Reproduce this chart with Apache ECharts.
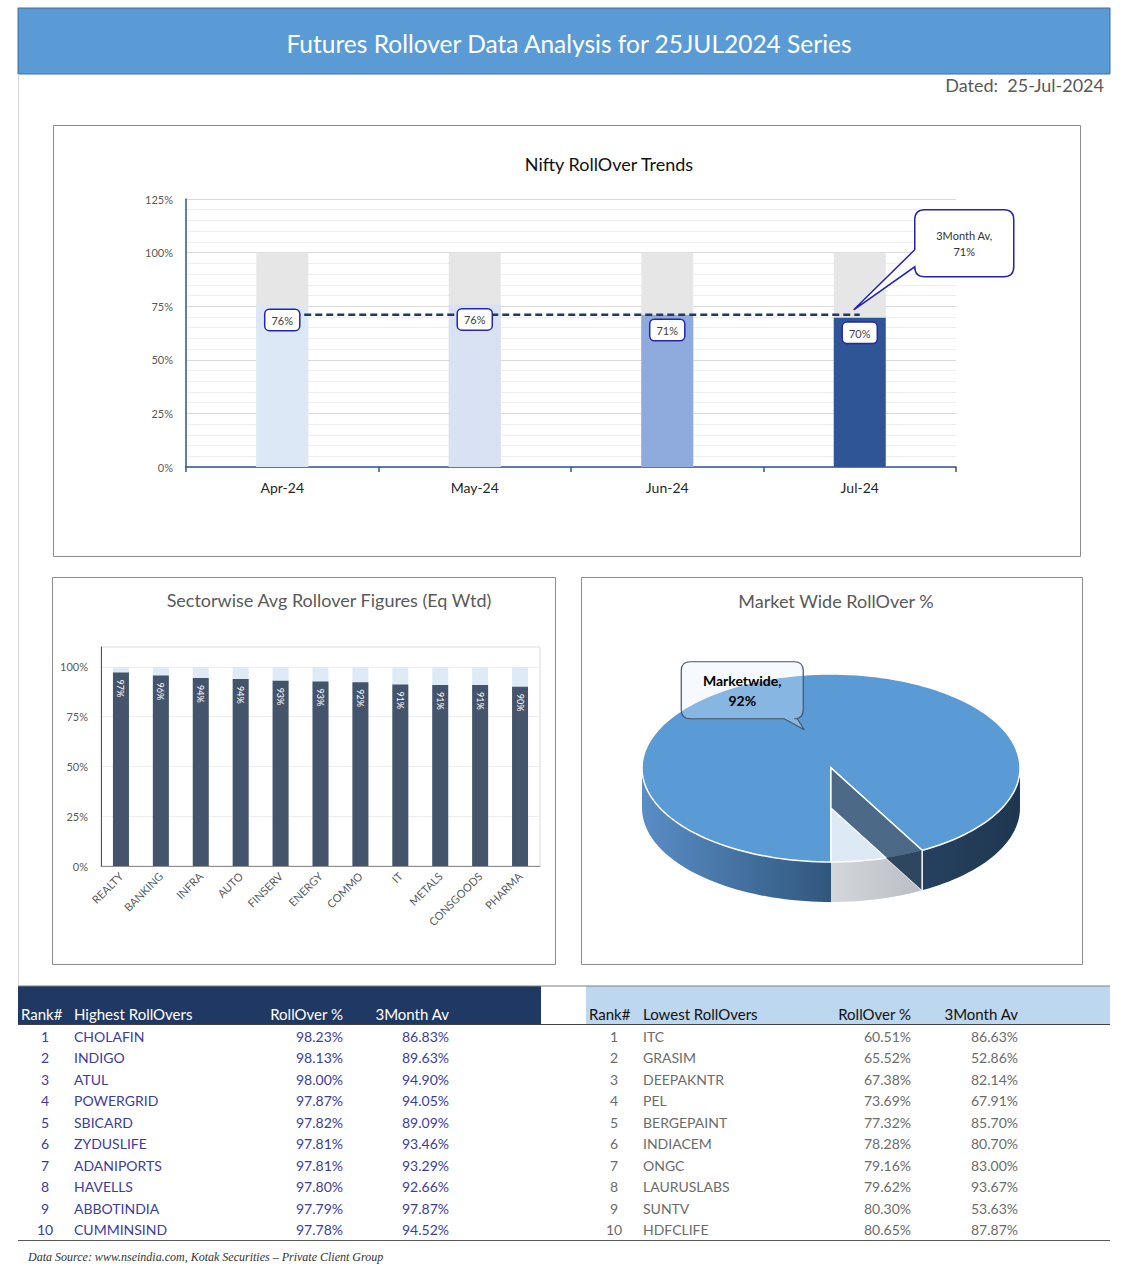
<!DOCTYPE html>
<html><head><meta charset="utf-8">
<script src="https://cdn.jsdelivr.net/npm/echarts@6/dist/echarts.min.js"></script>
<style>html,body{margin:0;padding:0;background:#fff}#c{width:1137px;height:1280px}</style>
</head><body><div id="c"></div>
<script>
// ---------------- DATA ----------------
const mainTitle = 'Futures Rollover Data Analysis for 25JUL2024 Series';
const datedText = 'Dated:  25-Jul-2024';
const months = ['Apr-24', 'May-24', 'Jun-24', 'Jul-24'];
const niftyRollover = [75.6, 75.8, 70.9, 69.6];
const nifty3mAvg = [71, 71, 71, 71];
const niftyFull = [100, 100, 100, 100];
const niftyTicks = [0, 25, 50, 75, 100, 125];

const sectors = ['REALTY', 'BANKING', 'INFRA', 'AUTO', 'FINSERV', 'ENERGY', 'COMMO', 'IT', 'METALS', 'CONSGOODS', 'PHARMA'];
const sectorRollover = [97.2, 95.7, 94.4, 93.9, 93.1, 92.7, 92.3, 91.2, 90.9, 90.9, 90.0];
const sectorFull = [100, 100, 100, 100, 100, 100, 100, 100, 100, 100, 100];

const pieNames = ['Marketwide', 'Balance'];
const pieValues = [92, 8];

const tableHeaders = ['Rank#', 'RollOver %', '3Month Av'];
const highTitle = 'Highest RollOvers';
const lowTitle = 'Lowest RollOvers';
const ranks = [1, 2, 3, 4, 5, 6, 7, 8, 9, 10];
const highNames = ['CHOLAFIN', 'INDIGO', 'ATUL', 'POWERGRID', 'SBICARD', 'ZYDUSLIFE', 'ADANIPORTS', 'HAVELLS', 'ABBOTINDIA', 'CUMMINSIND'];
const highRoll = [98.23, 98.13, 98.00, 97.87, 97.82, 97.81, 97.81, 97.80, 97.79, 97.78];
const high3m = [86.83, 89.63, 94.90, 94.05, 89.09, 93.46, 93.29, 92.66, 97.87, 94.52];
const lowNames = ['ITC', 'GRASIM', 'DEEPAKNTR', 'PEL', 'BERGEPAINT', 'INDIACEM', 'ONGC', 'LAURUSLABS', 'SUNTV', 'HDFCLIFE'];
const lowRoll = [60.51, 65.52, 67.38, 73.69, 77.32, 78.28, 79.16, 79.62, 80.30, 80.65];
const low3m = [86.63, 52.86, 82.14, 67.91, 85.70, 80.70, 83.00, 93.67, 53.63, 87.87];
const footText = 'Data Source: www.nseindia.com, Kotak Securities \u2013 Private Client Group';

// ---------------- STYLE ----------------
const F = 'Lato, "Open Sans", sans-serif';
const monthColors = ['#DCE8F5', '#D9E2F3', '#8FAADC', '#2F5597'];
const pieTopColors = ['#5B9BD5', '#DDE9F5'];
const pieSideStops = [
  [{offset: 0, color: '#5A8DC6'}, {offset: 0.49, color: '#31587F'}, {offset: 0.52, color: '#2B4B6D'}, {offset: 1, color: '#1F3650'}],
  [{offset: 0, color: '#DADDE1'}, {offset: 0.5, color: '#D3D6DA'}, {offset: 0.75, color: '#B9BEC4'}, {offset: 1, color: '#B0B5BB'}]
];
const PIE = {cx: 831, cy: 768, rx: 189, ry: 94, h: 40, start: 90};

const pct = v => v.toFixed(2) + '%';

function ep(a, dy, k) {
  k = (k == null) ? 1 : k;
  const r = a * Math.PI / 180;
  return [PIE.cx + PIE.rx * k * Math.cos(r), PIE.cy + PIE.ry * k * Math.sin(r) + dy];
}
function arc(a0, a1, dy) {
  const n = Math.max(2, Math.ceil(Math.abs(a1 - a0) / 2));
  const pts = [];
  for (let i = 0; i <= n; i++) pts.push(ep(a0 + (a1 - a0) * i / n, dy));
  return pts;
}
const pieTotal = pieValues.reduce((a, b) => a + b, 0);
function sliceAngles(i) {
  let before = 0;
  for (let j = 0; j < i; j++) before += pieValues[j];
  const a0 = PIE.start + 360 * before / pieTotal;
  return [a0, a0 + 360 * pieValues[i] / pieTotal];
}
function calloutBottom(x, y, w, h, r, t1, t2, tip) {
  return 'M' + (x + r) + ',' + y + ' L' + (x + w - r) + ',' + y + ' Q' + (x + w) + ',' + y + ' ' + (x + w) + ',' + (y + r) +
    ' L' + (x + w) + ',' + (y + h - r) + ' Q' + (x + w) + ',' + (y + h) + ' ' + (x + w - r) + ',' + (y + h) +
    ' L' + t2 + ',' + (y + h) + ' L' + tip[0] + ',' + tip[1] + ' L' + t1 + ',' + (y + h) +
    ' L' + (x + r) + ',' + (y + h) + ' Q' + x + ',' + (y + h) + ' ' + x + ',' + (y + h - r) +
    ' L' + x + ',' + (y + r) + ' Q' + x + ',' + y + ' ' + (x + r) + ',' + y + ' Z';
}
function calloutLeft(x, y, w, h, r, t1, t2, tip) {
  return 'M' + (x + r) + ',' + y + ' L' + (x + w - r) + ',' + y + ' Q' + (x + w) + ',' + y + ' ' + (x + w) + ',' + (y + r) +
    ' L' + (x + w) + ',' + (y + h - r) + ' Q' + (x + w) + ',' + (y + h) + ' ' + (x + w - r) + ',' + (y + h) +
    ' L' + (x + r) + ',' + (y + h) + ' Q' + x + ',' + (y + h) + ' ' + x + ',' + (y + h - r) +
    ' L' + x + ',' + t2 + ' L' + tip[0] + ',' + tip[1] + ' L' + x + ',' + t1 +
    ' L' + x + ',' + (y + r) + ' Q' + x + ',' + y + ' ' + (x + r) + ',' + y + ' Z';
}
function txt(x, y, text, opt) {
  opt = opt || {};
  const align = opt.align || 'left';
  return {type: 'text', x: x, y: y, silent: true, z: 10,
    style: {text: text, fill: opt.color || '#333', font: opt.font || ('14px ' + F),
      align: align, textAlign: align, verticalAlign: 'middle', textVerticalAlign: 'middle'}};
}

function pieRender(params, api) {
  const i = params.dataIndex;
  const ang = sliceAngles(i);
  const a0 = ang[0], a1 = ang[1];
  const ch = [];
  [[0, 180], [360, 540]].forEach(function (rg) {
    const lo = Math.max(a0, rg[0]), hi = Math.min(a1, rg[1]);
    if (hi > lo) {
      const top = arc(lo, hi, 0), bot = arc(hi, lo, PIE.h);
      ch.push({type: 'polygon', z2: 1, shape: {points: top.concat(bot)},
        style: {fill: {type: 'linear', x: PIE.cx - PIE.rx, y: 0, x2: PIE.cx + PIE.rx, y2: 0, global: true, colorStops: pieSideStops[i]}}});
    }
  });
  ch.push({type: 'polygon', z2: 2, shape: {points: [[PIE.cx, PIE.cy]].concat(arc(a0, a1, 0))},
    style: {fill: pieTopColors[i], stroke: '#ffffff', lineWidth: 1.5}});
  if (i === 0) {
    const e0 = ep(a1, 0), e1 = ep(a1, PIE.h);
    const b0 = [PIE.cx, PIE.cy + PIE.h];
    ch.push({type: 'polygon', z2: 3, shape: {points: [[PIE.cx, PIE.cy], e0, e1, b0]},
      style: {fill: '#4C6987', stroke: '#ffffff', lineWidth: 1.3}});
    // darker lower part of the cut wall (below the next slice's rim)
    const dark = [e0];
    const slope = (e1[1] - b0[1]) / (e1[0] - b0[0]);
    for (let t = 0; t <= 30; t += 0.5) {
      const p = ep(a1 + t, 0);
      const yl = b0[1] + (p[0] - b0[0]) * slope;
      if (p[1] <= yl) dark.push(p); else { dark.push([p[0], yl]); break; }
    }
    dark.push(e1);
    ch.push({type: 'polygon', z2: 3.5, shape: {points: dark}, style: {fill: '#2E4660'}});
    ch.push({type: 'line', z2: 3.6, shape: {x1: e0[0], y1: e0[1], x2: e1[0], y2: e1[1]}, style: {stroke: '#ffffff', lineWidth: 1.3}});
    const mid = (a0 + a1) / 2;
    const m = ep(mid, 0, 0.42);
    const tip = [m[0] - 7, m[1]];
    const bx = tip[0] - 123, by = tip[1] - 68;
    ch.push({type: 'path', z2: 5, shape: {pathData: calloutBottom(bx, by, 122, 57, 9, tip[0] - 20, tip[0] - 7, tip)},
      style: {fill: 'rgba(228,240,251,0.32)', stroke: '#44546A', lineWidth: 1.2}});
    ch.push({type: 'text', z2: 6, x: tip[0] - 62, y: tip[1] - 39,
      style: {text: pieNames[i] + ',\n' + Math.round(pieValues[i]) + '%', fill: '#000', font: 'bold 14px ' + F,
        align: 'center', textAlign: 'center', verticalAlign: 'middle', textVerticalAlign: 'middle', lineHeight: 20}});
  }
  return {type: 'group', children: ch};
}

function avgCalloutRender(params, api) {
  const p = api.coord([api.value(0), api.value(1)]);
  const tip = [p[0] - 6, p[1] - 5];
  const bx = tip[0] + 61, by = tip[1] - 100;
  return {type: 'group', children: [
    {type: 'path', z2: 5, shape: {pathData: calloutLeft(bx, by, 99, 67, 10, by + 40, by + 57, tip)},
      style: {fill: '#ffffff', stroke: '#2323B0', lineWidth: 1.5}},
    {type: 'text', z2: 6, x: bx + 49.5, y: by + 34,
      style: {text: '3Month Av,\n' + Math.round(api.value(1)) + '%', fill: '#333', font: '11px ' + F,
        align: 'center', textAlign: 'center', verticalAlign: 'middle', textVerticalAlign: 'middle', lineHeight: 16}}
  ]};
}

function buildGraphics() {
  const g = [];
  g.push({type: 'rect', z: 0, shape: {x: 18, y: 8, width: 1092, height: 66}, style: {fill: '#5B9BD5', stroke: '#41719C', lineWidth: 1}});
  g.push({type: 'line', z: 0, shape: {x1: 18.5, y1: 74, x2: 18.5, y2: 986}, style: {stroke: '#d6d6d6', lineWidth: 1}});
  g.push({type: 'rect', z: 0, shape: {x: 53.5, y: 125.5, width: 1027, height: 431}, style: {fill: 'none', stroke: '#8c8c8c', lineWidth: 1}});
  g.push({type: 'rect', z: 0, shape: {x: 52.5, y: 577.5, width: 503, height: 387}, style: {fill: 'none', stroke: '#8c8c8c', lineWidth: 1}});
  g.push({type: 'rect', z: 0, shape: {x: 581.5, y: 577.5, width: 501, height: 387}, style: {fill: 'none', stroke: '#8c8c8c', lineWidth: 1}});
  g.push({type: 'rect', z: 1, shape: {x: 18, y: 986, width: 523, height: 38}, style: {fill: '#1F3864'}});
  g.push({type: 'rect', z: 1, shape: {x: 586, y: 986, width: 524, height: 38}, style: {fill: '#BDD7EE'}});
  g.push({type: 'line', z: 1, shape: {x1: 18, y1: 986, x2: 1110, y2: 986}, style: {stroke: '#7f7f7f', lineWidth: 1}});
  g.push({type: 'line', z: 1, shape: {x1: 18, y1: 1024.5, x2: 1110, y2: 1024.5}, style: {stroke: '#404040', lineWidth: 1}});
  g.push({type: 'line', z: 1, shape: {x1: 18, y1: 1240.5, x2: 1110, y2: 1240.5}, style: {stroke: '#595959', lineWidth: 1}});
  const hy = 1014;
  const hf = '15px ' + F;
  g.push(txt(21, hy, tableHeaders[0], {color: '#fff', font: hf}));
  g.push(txt(74, hy, highTitle, {color: '#fff', font: hf}));
  g.push(txt(343, hy, tableHeaders[1], {color: '#fff', align: 'right', font: hf}));
  g.push(txt(449, hy, tableHeaders[2], {color: '#fff', align: 'right', font: hf}));
  g.push(txt(589, hy, tableHeaders[0], {color: '#111', font: hf}));
  g.push(txt(643, hy, lowTitle, {color: '#111', font: hf}));
  g.push(txt(911, hy, tableHeaders[1], {color: '#111', align: 'right', font: hf}));
  g.push(txt(1018, hy, tableHeaders[2], {color: '#111', align: 'right', font: hf}));
  const hc = '#3C3CA0', lc = '#6b6b6b';
  for (let i = 0; i < ranks.length; i++) {
    const y = 1036 + i * 21.55;
    g.push(txt(45, y, String(ranks[i]), {color: hc, align: 'center'}));
    g.push(txt(74, y, highNames[i], {color: hc}));
    g.push(txt(343, y, pct(highRoll[i]), {color: hc, align: 'right'}));
    g.push(txt(449, y, pct(high3m[i]), {color: hc, align: 'right'}));
    g.push(txt(614, y, String(ranks[i]), {color: lc, align: 'center'}));
    g.push(txt(643, y, lowNames[i], {color: lc}));
    g.push(txt(911, y, pct(lowRoll[i]), {color: lc, align: 'right'}));
    g.push(txt(1018, y, pct(low3m[i]), {color: lc, align: 'right'}));
  }
  g.push(txt(28, 1257, footText, {color: '#333', font: 'italic 12px "Liberation Serif", "DejaVu Serif", serif'}));
  return g;
}

const option = {
  animation: false,
  backgroundColor: '#ffffff',
  textStyle: {fontFamily: F},
  title: [
    {text: mainTitle, left: 564, top: 26, textAlign: 'center', textStyle: {color: '#ffffff', fontSize: 24.5, fontWeight: 'normal', fontFamily: F}},
    {text: datedText, right: 28, top: 71, textStyle: {color: '#595959', fontSize: 18, fontWeight: 'normal', fontFamily: F}},
    {text: 'Nifty RollOver Trends', left: 604, top: 150, textAlign: 'center', textStyle: {color: '#111', fontSize: 18, fontWeight: 'normal', fontFamily: F}},
    {text: 'Sectorwise Avg Rollover Figures (Eq Wtd)', left: 324, top: 586, textAlign: 'center', textStyle: {color: '#595959', fontSize: 18, fontWeight: 'normal', fontFamily: F}},
    {text: 'Market Wide RollOver %', left: 831, top: 587, textAlign: 'center', textStyle: {color: '#595959', fontSize: 18, fontWeight: 'normal', fontFamily: F}}
  ],
  grid: [
    {left: 186, top: 199, width: 770, height: 268},
    {left: 101, top: 647, width: 439, height: 219, show: true, borderColor: '#d9d9d9', borderWidth: 1, backgroundColor: 'transparent'}
  ],
  xAxis: [
    {gridIndex: 0, type: 'category', data: months,
      axisLine: {lineStyle: {color: '#2F5597', width: 1.5}},
      axisTick: {show: true, length: 5, lineStyle: {color: '#2F5597', width: 1.5}},
      axisLabel: {fontSize: 14, color: '#262626', margin: 13, fontFamily: F}},
    {gridIndex: 1, type: 'category', data: sectors,
      axisLine: {lineStyle: {color: '#8c8c8c'}}, axisTick: {show: false},
      axisLabel: {rotate: 45, interval: 0, fontSize: 11, color: '#595959', margin: 8, fontFamily: F}}
  ],
  yAxis: [
    {gridIndex: 0, type: 'value', min: niftyTicks[0], max: niftyTicks[niftyTicks.length - 1], interval: 25,
      axisLine: {show: true, lineStyle: {color: '#2F5597', width: 1.5}},
      axisTick: {show: false},
      axisLabel: {formatter: '{value}%', fontSize: 11, color: '#595959', margin: 13, fontFamily: F},
      splitLine: {lineStyle: {color: '#d9d9d9'}},
      minorTick: {show: false, splitNumber: 5},
      minorSplitLine: {show: true, lineStyle: {color: '#eeeeee'}}},
    {gridIndex: 1, type: 'value', min: 0, max: 110, interval: 25,
      axisLine: {show: true, lineStyle: {color: '#44546A'}},
      axisTick: {show: false},
      axisLabel: {formatter: v => v > 100 ? '' : v + '%', fontSize: 11, color: '#595959', margin: 13, fontFamily: F},
      splitLine: {lineStyle: {color: '#eeeeee'}}}
  ],
  series: [
    {type: 'bar', name: 'Full', xAxisIndex: 0, yAxisIndex: 0, data: niftyFull, barWidth: 52, barGap: '-100%',
      itemStyle: {color: '#E7E6E6'}, silent: true, z: 1},
    {type: 'bar', name: 'Nifty RollOver', xAxisIndex: 0, yAxisIndex: 0, barWidth: 52, barGap: '-100%', z: 2,
      data: niftyRollover.map((v, i) => ({value: v, itemStyle: {color: monthColors[i]}}))},
    {type: 'line', name: '3Month Av', xAxisIndex: 0, yAxisIndex: 0, data: nifty3mAvg, symbol: 'none', z: 3,
      lineStyle: {color: '#203864', width: 2.6, type: [7, 4]}},
    {type: 'bar', name: 'labels', xAxisIndex: 0, yAxisIndex: 0, data: niftyRollover, barWidth: 52, barGap: '-100%', z: 4,
      itemStyle: {color: 'rgba(0,0,0,0)'}, silent: true,
      label: {show: true, position: 'insideTop', distance: 5, formatter: p => Math.round(p.value) + '%',
        backgroundColor: '#ffffff', borderColor: '#2626A6', borderWidth: 1.5, borderRadius: 4, padding: [5, 6, 4, 6],
        fontSize: 11, color: '#404040', fontFamily: F}},
    {type: 'custom', name: '3Month Av callout', xAxisIndex: 0, yAxisIndex: 0, coordinateSystem: 'cartesian2d', clip: false, z: 6,
      renderItem: avgCalloutRender,
      data: [[months.length - 1, nifty3mAvg[nifty3mAvg.length - 1]]]},
    {type: 'bar', name: 'SectorFull', xAxisIndex: 1, yAxisIndex: 1, data: sectorFull, barWidth: 16, barGap: '-100%',
      itemStyle: {color: '#DEEBF7'}, silent: true, z: 1},
    {type: 'bar', name: 'Sector', xAxisIndex: 1, yAxisIndex: 1, data: sectorRollover, barWidth: 16, barGap: '-100%', z: 2,
      itemStyle: {color: '#44546A'},
      label: {show: true, position: 'insideTop', distance: 7, rotate: -90, align: 'left', verticalAlign: 'middle',
        formatter: p => Math.round(p.value) + '%', color: '#ffffff', fontSize: 9, fontFamily: F}},
    {type: 'custom', name: 'Market', coordinateSystem: 'none', renderItem: pieRender,
      data: pieValues.map((v, i) => ({name: pieNames[i], value: v}))}
  ],
  graphic: buildGraphics()
};

const chart = echarts.init(document.getElementById('c'), null, {renderer: 'svg', width: 1137, height: 1280});
chart.setOption(option);
</script></body></html>
